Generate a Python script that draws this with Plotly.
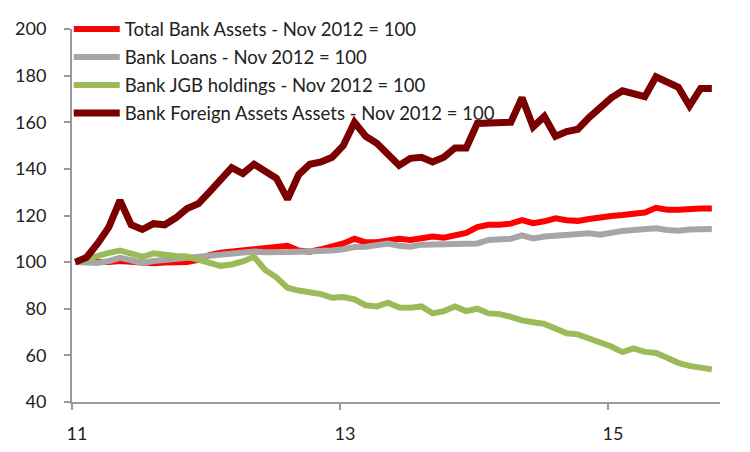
import plotly.graph_objects as go

# monthly index values, Jan 2011 .. Oct 2015
years = [11, 12, 13, 14, 15]
total_assets = [100, 99.8, 99.6, 100, 100.5, 100, 99.5, 99.5, 99.8, 99.8,
                100, 101, 103, 104, 104.5, 105, 105.5, 106.5, 106.5, 107,
                105, 104.5, 105.5, 106.5, 108, 110, 108.5, 108.5, 109.5, 110,
                109.5, 110.5, 111, 110.5, 111.5, 112.5, 115, 116, 116, 116.5,
                118, 116.7, 117.5, 118.8, 118, 117.7, 118.5, 119.3, 119.8, 120.2,
                120.8, 121.3, 123.3, 122.5, 122.5, 123, 123, 123]
loans = [100, 100, 99.6, 100.5, 101.8, 100.8, 99.6, 100.5, 101, 101.2,
         101.6, 102, 102.8, 103.2, 103.5, 104, 104.5, 104.2, 104, 104.3,
         104.5, 104.5, 105, 105, 105.5, 106.5, 106.6, 107, 108, 107,
         106.6, 107.5, 107.5, 107.5, 108, 107.8, 108, 109.5, 109.5, 110,
         111.5, 110.2, 111, 111.5, 112, 112.3, 112.4, 111.8, 112.8, 113.4,
         113.8, 114, 114.5, 113.8, 113.5, 114, 114.2, 114.2]
jgb = [100, 101.5, 103, 104, 105, 103.5, 102.3, 103.8, 103, 102.6,
       102.4, 101, 99.2, 98.4, 99, 100.3, 102.3, 96.6, 93.5, 89,
       87.8, 87, 86.3, 84.7, 85, 84, 81.5, 81, 82.6, 80.5,
       80.4, 81, 78, 79, 81, 79, 80, 78, 77.7, 76.5,
       75, 74.2, 73.5, 71.5, 69.5, 69, 67.3, 65.5, 63.8, 61.4,
       63, 61.5, 61, 59, 56.8, 55.5, 54.7, 54]
foreign = [100, 102, 108, 115, 126.5, 116, 114, 116.5, 116, 119,
           123, 125, 130, 135.5, 140.5, 138, 142, 139, 136, 127,
           137.5, 142, 143, 145, 150, 160, 154, 151, 146, 141.5,
           144.5, 145, 143, 145, 149, 149, 159.5, 159.5, 159.5, 160,
           170.5, 158, 162.5, 154, 156, 157, 162, 166.5, 170.5, 173.5,
           172.5, 171, 179.5, 177, 175, 167, 174.5, 174.5]

x = []
for yy in years:
    for m in range(12):
        x.append(yy + (m + 0.3) / 12)
x = x[:len(foreign)]

series = [
    ('Total Bank Assets - Nov 2012 = 100', total_assets, '#ff0000', 6),
    ('Bank Loans - Nov 2012 = 100', loans, '#a6a6a6', 6),
    ('Bank JGB holdings - Nov 2012 = 100', jgb, '#9bbb59', 6),
    ('Bank Foreign Assets Assets - Nov 2012 = 100', foreign, '#7b0000', 7),
]

fig = go.Figure()
for i, (name, vals, col, w) in enumerate(series):
    fig.add_trace(go.Scatter(name=name,
                             x=x,
                             y=vals,
                             mode='lines',
                             legendgroup=str(i),
                             line=dict(color=col, width=w, shape='linear')))

# the page body adds 8px around the figure, so the figure is a bit smaller
axis_col = '#9a9a9a'
fig.update_layout(width=742, height=444,
                  margin=dict(l=64, r=30, t=21, b=50, autoexpand=False),
                  paper_bgcolor='white',
                  plot_bgcolor='white',
                  font=dict(family='Lato, Liberation Sans, sans-serif', size=18, color='#222222'),
                  showlegend=True,
                  legend=dict(x=-0.005, y=1.05, xanchor='left', yanchor='top',
                              bgcolor='rgba(0,0,0,0)', tracegroupgap=1,
                              itemwidth=46,
                              font=dict(size=18.5, color='#222222')),
                  hovermode='closest')
fig.update_xaxes(range=[11, 15.836],
                 tickvals=[11, 13, 15],
                 ticktext=['11', '13', '15'],
                 automargin=False,
                 showgrid=False, zeroline=False,
                 showline=True, linecolor=axis_col, linewidth=2,
                 ticks='outside', ticklen=6, tickcolor=axis_col, tickwidth=1.5,
                 ticklabelstandoff=8, ticklabelshift=5)
fig.update_yaxes(range=[40, 200], dtick=20,
                 automargin=False,
                 showgrid=False, zeroline=False,
                 showline=True, linecolor=axis_col, linewidth=2,
                 ticks='outside', ticklen=6, tickcolor=axis_col, tickwidth=1.5,
                 ticklabelstandoff=14)

fig.write_html("out.html")
